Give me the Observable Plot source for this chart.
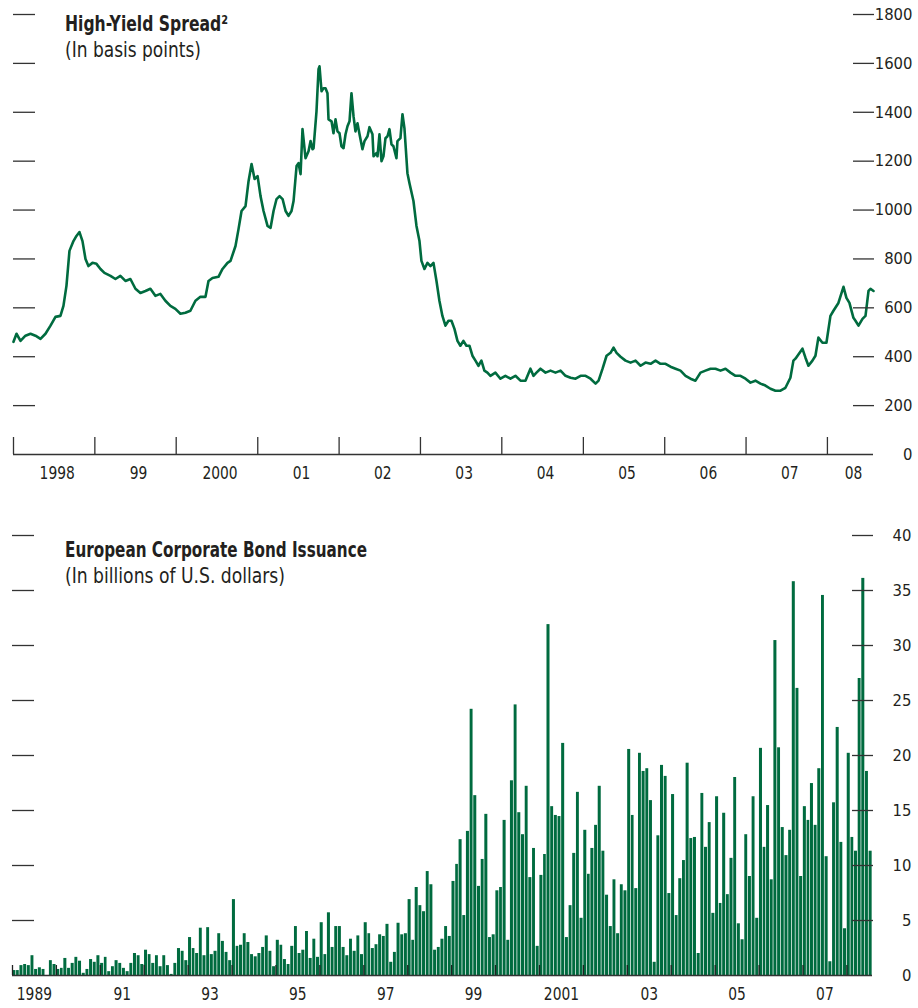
<!DOCTYPE html>
<html><head><meta charset="utf-8">
<script src="https://cdn.jsdelivr.net/npm/d3@7"></script>
<script src="https://cdn.jsdelivr.net/npm/@observablehq/plot@0.6"></script>
<style>
body{margin:0;background:#fff;}
#wrap{position:relative;width:918px;height:1008px;overflow:hidden;background:#fff;}
#wrap svg.plotsvg{display:block}
</style></head><body>
<div id="wrap"></div>
<script>
// ---------- data: High-yield spread (basis points), decimal-year time stamps ----------
const spreadYear = [1998.000,1998.037,1998.086,1998.147,1998.209,1998.270,1998.332,1998.393,1998.455,1998.516,1998.577,1998.614,1998.651,1998.688,1998.737,1998.774,1998.811,1998.848,1998.885,1998.921,1998.971,
1999.020,1999.069,1999.118,1999.192,1999.253,1999.314,1999.376,1999.437,1999.499,1999.560,1999.622,1999.683,1999.744,1999.806,1999.867,1999.929,1999.990,
2000.052,2000.113,2000.174,2000.236,2000.297,2000.359,2000.396,2000.445,2000.518,2000.568,2000.629,2000.666,2000.727,2000.764,2000.801,2000.850,2000.887,2000.924,2000.961,2000.998,
2001.034,2001.071,2001.120,2001.157,2001.194,2001.231,2001.268,2001.305,2001.342,2001.378,2001.415,2001.440,2001.477,2001.501,2001.526,2001.550,2001.587,2001.624,2001.649,2001.673,2001.686,2001.722,2001.747,2001.759,2001.784,2001.808,2001.833,2001.857,2001.870,2001.907,2001.931,2001.956,2001.980,
2002.005,2002.029,2002.054,2002.079,2002.103,2002.128,2002.152,2002.177,2002.201,2002.226,2002.251,2002.287,2002.312,2002.349,2002.373,2002.410,2002.423,2002.459,2002.472,2002.496,2002.521,2002.545,2002.570,2002.595,2002.619,2002.644,2002.668,2002.705,2002.717,2002.754,2002.779,2002.803,2002.840,2002.865,2002.914,2002.951,2002.988,
2003.012,2003.049,2003.086,2003.123,2003.160,2003.197,2003.233,2003.270,2003.307,2003.344,2003.381,2003.418,2003.455,2003.491,2003.528,2003.565,2003.602,2003.639,2003.676,2003.713,2003.749,2003.786,2003.823,2003.860,2003.921,2003.983,
2004.044,2004.106,2004.167,2004.229,2004.290,2004.351,2004.388,2004.425,2004.474,2004.536,2004.597,2004.658,2004.720,2004.781,2004.843,2004.904,2004.966,
2005.027,2005.088,2005.150,2005.187,2005.236,2005.285,2005.334,2005.371,2005.408,2005.457,2005.518,2005.580,2005.641,2005.703,2005.764,2005.826,2005.887,2005.948,
2006.010,2006.071,2006.133,2006.194,2006.256,2006.317,2006.378,2006.440,2006.501,2006.563,2006.624,2006.686,2006.747,2006.808,2006.870,2006.931,2006.993,
2007.054,2007.115,2007.177,2007.238,2007.300,2007.361,2007.423,2007.484,2007.545,2007.582,2007.607,2007.693,2007.730,2007.767,2007.816,2007.853,2007.889,2007.939,2007.988,
2008.037,2008.074,2008.135,2008.197,2008.233,2008.270,2008.319,2008.344,2008.381,2008.430,2008.467,2008.504,2008.528,2008.565];
const spreadBp = [461,494,465,486,494,486,473,494,527,563,567,608,690,833,873,894,910,873,800,771,784,
780,759,743,731,718,731,710,718,678,661,669,678,649,657,629,608,596,
576,580,588,629,645,645,710,722,727,759,784,792,853,922,996,1016,1118,1188,1127,1139,
1057,996,935,927,996,1045,1057,1045,996,976,996,1037,1180,1192,1147,1331,1212,1241,1282,1249,1253,1404,1576,1588,1486,1498,1498,1478,1371,1363,1314,1371,1322,
1314,1261,1253,1310,1343,1363,1478,1384,1322,1355,1310,1249,1282,1302,1339,1310,1220,1233,1220,1310,1200,1220,1294,1302,1331,1269,1261,1212,1282,1294,1392,1335,1151,1110,1037,935,873,
792,759,784,771,784,710,629,567,527,547,547,514,465,445,465,445,445,404,384,363,384,343,335,322,335,310,
322,310,322,302,302,351,322,335,351,335,343,335,343,322,314,310,322,
322,310,290,302,351,404,416,437,416,400,384,376,384,363,376,371,384,371,
371,359,351,343,322,310,302,335,343,351,351,343,351,335,322,322,310,
294,302,290,282,269,261,261,273,314,384,392,433,396,363,384,404,478,457,457,
567,588,620,686,641,620,559,547,527,555,567,669,678,669];

// ---------- data: European corporate bond issuance (billions of US$), monthly from Jan 1989 ----------
const issuanceStartYear = 1989;
const issuanceValues = [
0.45,0.45,0.9,1.0,0.9,1.8,0.55,0.7,0.55,0,1.35,1.0,
0.55,0.65,1.55,0.65,1.1,1.65,1.3,0.2,0.55,1.45,1.2,1.8,
1.1,1.65,0.35,0.8,1.35,1.1,0.65,0.35,1.1,2.0,1.8,1.0,
2.3,1.9,1.1,1.8,0.8,1.8,0.9,0.1,1.1,2.45,2.2,1.35,
3.45,2.45,2.0,4.3,1.8,4.35,1.9,2.2,3.8,3.1,2.1,1.35,
6.9,2.65,2.75,3.8,3.0,1.9,1.7,2.0,2.55,3.6,2.2,0.8,
3.2,2.75,1.45,1.0,2.65,4.45,2.0,2.3,4.0,1.55,3.3,1.65,
4.8,1.9,5.7,2.55,4.45,4.45,2.55,1.8,3.3,2.2,3.6,1.9,
4.8,3.8,2.45,2.8,3.7,3.55,4.65,1.2,2.1,4.75,3.7,3.8,
6.9,3.2,8.0,6.35,5.8,9.45,8.25,2.3,2.55,3.3,4.45,3.55,
8.55,10.1,12.35,5.45,13.1,24.2,16.35,8.1,10.55,14.65,3.45,3.7,
7.7,8.0,14.1,3.2,17.7,24.6,14.8,12.8,17.2,8.9,11.55,2.65,
9.1,11.0,31.9,15.35,14.55,14.45,21.1,3.45,6.35,11.1,16.65,5.2,
13.2,9.2,11.55,13.65,17.2,11.3,7.3,4.45,8.7,3.8,8.25,7.7,
20.55,14.55,7.9,20.2,18.55,18.8,15.9,1.2,12.7,19.1,18.1,7.45,
16.45,5.45,8.8,10.45,19.3,12.45,12.55,2.0,16.55,11.65,13.9,5.65,
16.25,6.55,14.75,7.35,10.65,18.0,4.7,3.25,12.8,9.0,16.25,5.2,
20.65,11.65,15.45,8.7,30.45,20.7,13.45,10.9,13.2,35.8,26.1,9.0,
15.35,14.1,17.45,13.65,18.8,34.55,10.8,1.25,15.7,22.55,12.1,4.25,
20.2,12.55,11.3,27.0,36.1,18.55,11.3];

// ---------- tick labels ----------
const spreadTicks = [0,200,400,600,800,1000,1200,1400,1600,1800];
const spreadYears = [1998,1999,2000,2001,2002,2003,2004,2005,2006,2007,2008];
const spreadEnd = 2008.565;
const issuanceTicks = [0,5,10,15,20,25,30,35,40];
const issuanceYears = d3.range(1989, 2009);
const issuanceLabelYears = [1989,1991,1993,1995,1997,1999,2001,2003,2005,2007];

// ---------- helpers ----------
const FONT = '"Liberation Sans Narrow","DejaVu Sans Condensed","Roboto Condensed","Liberation Sans",sans-serif';
const GREEN = "#006b3f", INK = "#231f20", TICK = "#333";
function decYear(t){const y=Math.floor(t);const a=Date.UTC(y,0,1),b=Date.UTC(y+1,0,1);return new Date(a+(t-y)*(b-a));}
const jan = y => new Date(Date.UTC(y,0,1));

const spread = spreadYear.map((t,i)=>({date:decYear(t), bp:spreadBp[i]}));
const issuance = issuanceValues.map((v,i)=>({start:new Date(Date.UTC(issuanceStartYear,i,1)), end:new Date(Date.UTC(issuanceStartYear,i+1,1)), value:v}));

const topEnd = decYear(spreadEnd);
const topLabelDates = spreadYears.map(y => {
  const a = jan(y), b = y === 2008 ? topEnd : jan(y+1);
  return new Date((+a + +b)/2);
});
const topFmt = d => { const y = spreadYears[topLabelDates.findIndex(e=>+e===+d)]; return (y===1998||y===2000)?String(y):String(y).slice(2); };
const botLabelDates = issuanceLabelYears.map(y => new Date(Date.UTC(y,6,2)));
const botFmt = d => { const y=d.getUTCFullYear(); return (y===1989||y===2001)?String(y):String(y).slice(2); };

const baseStyle = {fontFamily:FONT, fontSize:"16.5px", color:INK, background:"transparent", overflow:"visible"};
const XFONT = 18.5;

const topPlot = Plot.plot({
  width:918, height:500, marginTop:14, marginBottom:46, marginLeft:13, marginRight:45,
  style: baseStyle,
  x:{type:"utc", domain:[jan(1998), topEnd]},
  y:{domain:[0,1800]},
  marks:[
    Plot.line(spread,{x:"date", y:"bp", stroke:GREEN, strokeWidth:2.6, strokeLinejoin:"round", curve:"linear"}),
    Plot.ruleY([0],{stroke:TICK, strokeWidth:1.3}),
    Plot.axisY(spreadTicks.filter(d=>d>0),{anchor:"right", tickSize:21, dx:-21, fill:"none", stroke:TICK, strokeWidth:1.3, label:null}),
    Plot.axisY(spreadTicks.filter(d=>d>0),{anchor:"left", tickSize:22, dx:22, fill:"none", stroke:TICK, strokeWidth:1.3, label:null}),
    Plot.axisY(spreadTicks,{anchor:"right", tickSize:0, tickPadding:0, dx:39, textAnchor:"end", tickFormat:d=>String(d), fill:INK, label:null}),
    Plot.axisX(spreadYears.map(jan),{anchor:"bottom", tickSize:17, dy:-17, fill:"none", stroke:TICK, strokeWidth:1.3, label:null}),
    Plot.axisX(topLabelDates,{anchor:"bottom", tickSize:0, tickPadding:11, dx:3, fontSize:XFONT, tickFormat:topFmt, fill:INK, label:null})
  ]
});
topPlot.classList.add("plotsvg");

const botPlot = Plot.plot({
  width:918, height:508, marginTop:35, marginBottom:33, marginLeft:12, marginRight:46,
  style: baseStyle,
  x:{type:"utc", domain:[jan(1989), new Date(Date.UTC(2008,7,1))]},
  y:{domain:[0,40]},
  marks:[
    Plot.rect(issuance,{x1:"start", x2:"end", y1:0, y2:"value", fill:GREEN, insetLeft:0.35, insetRight:0.35}),
    Plot.ruleY([0],{stroke:TICK, strokeWidth:1.3}),
    Plot.axisY(issuanceTicks.filter(d=>d>0),{anchor:"right", tickSize:21, dx:-21, fill:"none", stroke:TICK, strokeWidth:1.3, label:null}),
    Plot.axisY(issuanceTicks.filter(d=>d>0),{anchor:"left", tickSize:22, dx:22, fill:"none", stroke:TICK, strokeWidth:1.3, label:null}),
    Plot.axisY(issuanceTicks,{anchor:"right", tickSize:0, tickPadding:0, dx:39, textAnchor:"end", tickFormat:d=>String(d), fill:INK, label:null}),
    Plot.axisX(issuanceYears.map(jan),{anchor:"bottom", tickSize:10, dy:-10, fill:"none", stroke:"#222", strokeWidth:1.3, label:null}),
    Plot.axisX(botLabelDates,{anchor:"bottom", tickSize:0, tickPadding:11, fontSize:XFONT, tickFormat:botFmt, fill:INK, label:null})
  ]
});
botPlot.classList.add("plotsvg");

const wrap = document.getElementById("wrap");
wrap.appendChild(topPlot);
wrap.appendChild(botPlot);

// x tick labels: condense horizontally (the original uses a condensed face)
for (const svg of [topPlot, botPlot]) {
  for (const g of svg.querySelectorAll('g[aria-label="x-axis tick label"]')) {
    for (const t of g.querySelectorAll("text")) {
      const len = t.getComputedTextLength();
      if (len > 0) { t.setAttribute("textLength", (len*0.83).toFixed(2)); t.setAttribute("lengthAdjust","spacingAndGlyphs"); }
    }
  }
}

// ---------- titles ----------
const NS = "http://www.w3.org/2000/svg";
const ov = document.createElementNS(NS,"svg");
ov.setAttribute("width",918); ov.setAttribute("height",1008);
ov.setAttribute("style","position:absolute;left:0;top:0;pointer-events:none;font-family:"+FONT.replace(/"/g,"'")+";fill:"+INK);
ov.innerHTML = `
<text x="65" y="31" font-weight="bold" font-size="21.5px" textLength="163" lengthAdjust="spacingAndGlyphs">High-Yield Spread²</text>
<text x="65" y="57" font-size="21.5px" textLength="136" lengthAdjust="spacingAndGlyphs">(In basis points)</text>
<text x="65" y="557" font-weight="bold" font-size="21.5px" textLength="302" lengthAdjust="spacingAndGlyphs">European Corporate Bond Issuance</text>
<text x="65" y="583" font-size="21.5px" textLength="220" lengthAdjust="spacingAndGlyphs">(In billions of U.S. dollars)</text>`;
wrap.appendChild(ov);
</script></body></html>
